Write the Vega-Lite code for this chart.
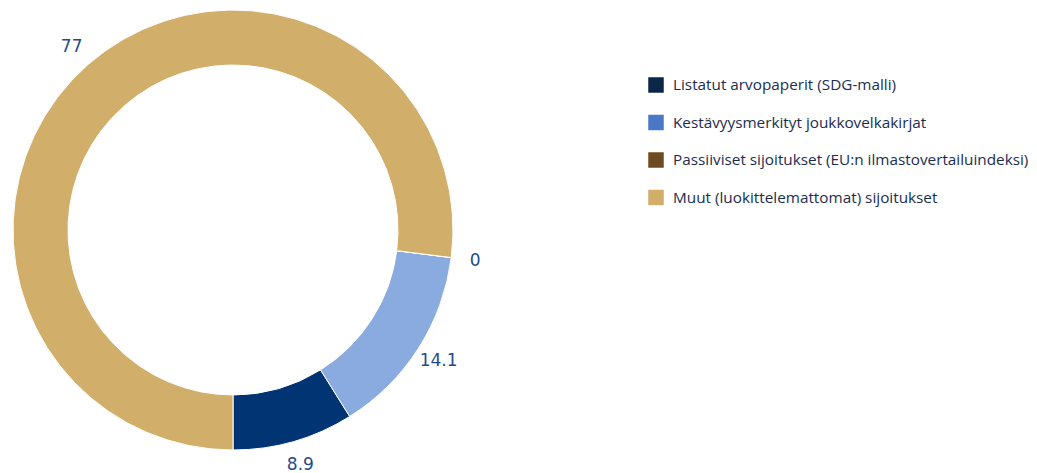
{
  "$schema": "https://vega.github.io/schema/vega-lite/v6.json",
  "width": 466,
  "height": 460,
  "padding": 0,
  "autosize": {"type": "pad"},
  "background": "white",
  "config": {"view": {"stroke": null}},
  "data": {
    "values": [
      {"cat": "Listatut arvopaperit (SDG-malli)", "value": 8.9, "order": 1, "label": "8.9"},
      {"cat": "Kestävyysmerkityt joukkovelkakirjat", "value": 14.1, "order": 2, "label": "14.1"},
      {"cat": "Passiiviset sijoitukset (EU:n ilmastovertailuindeksi)", "value": 0, "order": 3, "label": "0"},
      {"cat": "Muut (luokittelemattomat) sijoitukset", "value": 77, "order": 4, "label": "77"}
    ]
  },
  "encoding": {
    "theta": {"field": "value", "type": "quantitative", "stack": true, "scale": {"range": [3.14159265, -3.14159265]}},
    "order": {"field": "order", "type": "quantitative"}
  },
  "layer": [
    {
      "mark": {"type": "arc", "outerRadius": 220, "innerRadius": 165, "stroke": "#ffffff", "strokeWidth": 1},
      "encoding": {
        "color": {
          "field": "cat", "type": "nominal",
          "scale": {
            "domain": ["Listatut arvopaperit (SDG-malli)", "Kestävyysmerkityt joukkovelkakirjat", "Passiiviset sijoitukset (EU:n ilmastovertailuindeksi)", "Muut (luokittelemattomat) sijoitukset"],
            "range": ["#003473", "#8aabe0", "#6e4a20", "#d1ae6a"]
          },
          "legend": null
        }
      }
    },
    {
      "mark": {"type": "arc", "outerRadius": 220, "innerRadius": 165, "opacity": 0},
      "encoding": {
        "color": {
          "field": "leg", "type": "nominal",
          "scale": {
            "domain": ["Listatut arvopaperit (SDG-malli)", "Kestävyysmerkityt joukkovelkakirjat", "Passiiviset sijoitukset (EU:n ilmastovertailuindeksi)", "Muut (luokittelemattomat) sijoitukset"],
            "range": ["#0c2648", "#4a78c6", "#6e4a20", "#d1ae6a"]
          },
          "legend": {
            "title": null,
            "orient": "none",
            "legendX": 648,
            "legendY": 77,
            "padding": 0,
            "symbolType": "square",
            "symbolSize": 240,
            "symbolOpacity": 1,
            "symbolStrokeWidth": 0,
            "labelFont": "Open Sans",
            "labelFontSize": 15.3,
            "labelColor": "#1b2d4f",
            "labelOffset": 9,
            "labelLimit": 500,
            "rowPadding": 20.5
          }
        }
      },
      "transform": [{"calculate": "datum.cat", "as": "leg"}]
    },
    {
      "mark": {"type": "text", "radius": 244, "font": "DejaVu Sans", "fontSize": 17, "fill": "#1f4b8a"},
      "encoding": {"text": {"field": "label"}}
    }
  ],
  "resolve": {"scale": {"color": "independent"}}
}
